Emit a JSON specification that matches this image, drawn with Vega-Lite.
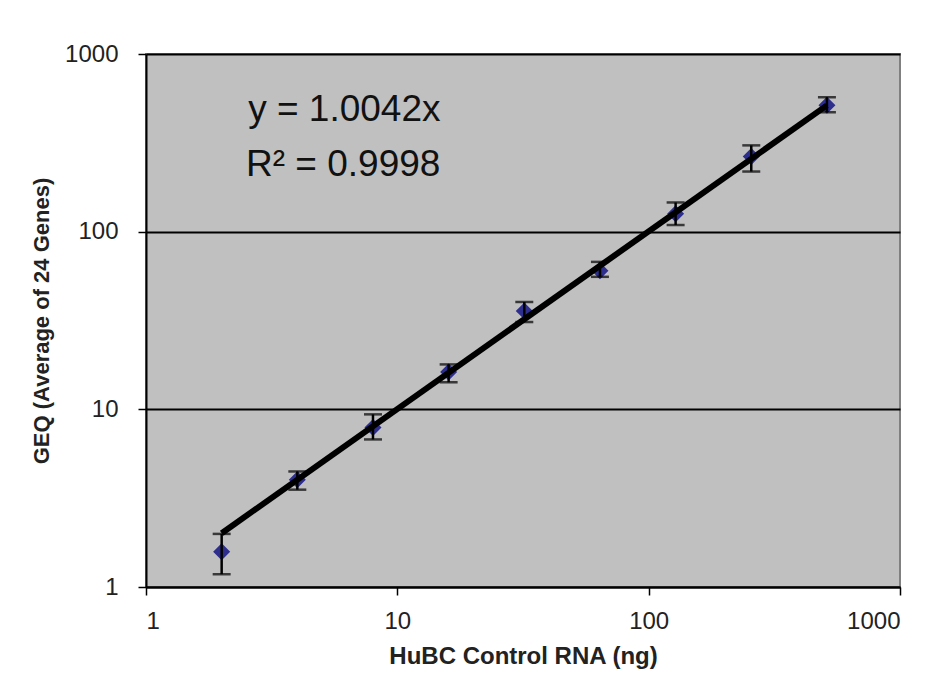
{
  "$schema": "https://vega.github.io/schema/vega-lite/v6.json",
  "autosize": {"type": "none"},
  "width": 754,
  "height": 533,
  "padding": {"left": 146, "top": 54, "right": 47, "bottom": 109},
  "background": "white",
  "config": {
    "font": "Liberation Sans",
    "view": {"fill": "#c0c0c0", "stroke": "#808080", "strokeWidth": 2},
    "axis": {
      "domainColor": "black", "domainWidth": 2,
      "tickColor": "black", "tickWidth": 1.5, "tickSize": 8,
      "labelFont": "Liberation Sans", "labelFontSize": 24, "labelColor": "#222",
      "titleFont": "Liberation Sans", "titleFontWeight": "bold", "titleColor": "#222"
    }
  },
  "datasets": {
    "points": [
      {"x": 2, "y": 1.58, "lo": 1.18, "hi": 1.99},
      {"x": 4, "y": 4.02, "lo": 3.53, "hi": 4.47},
      {"x": 8, "y": 7.9, "lo": 6.77, "hi": 9.37},
      {"x": 16, "y": 16.2, "lo": 14.2, "hi": 17.9},
      {"x": 32, "y": 35.8, "lo": 31, "hi": 40.2},
      {"x": 64, "y": 60.2, "lo": 55.7, "hi": 67.6},
      {"x": 128, "y": 126, "lo": 109, "hi": 146},
      {"x": 256, "y": 265, "lo": 218, "hi": 306},
      {"x": 512, "y": 515, "lo": 470, "hi": 571}
    ],
    "fit": [
      {"x": 2, "y": 2.008},
      {"x": 512, "y": 514.15}
    ],
    "notes": [
      {"x": 2.55, "y": 483, "label": "y = 1.0042x"},
      {"x": 2.5, "y": 237, "label": "R² = 0.9998"}
    ]
  },
  "layer": [
    {
      "data": {"name": "points"},
      "mark": {"type": "point", "shape": "diamond", "filled": true, "size": 290, "color": "#2e2e8f", "opacity": 1},
      "encoding": {
        "x": {
          "field": "x", "type": "quantitative",
          "scale": {"type": "log", "domain": [1, 1000], "nice": false},
          "axis": {"values": [1, 10, 100, 1000], "format": "d", "grid": false, "labelPadding": 14, "title": "HuBC Control RNA (ng)", "titleFontSize": 24, "titlePadding": 11}
        },
        "y": {
          "field": "y", "type": "quantitative",
          "scale": {"type": "log", "domain": [1, 1000], "nice": false},
          "axis": {"values": [1, 10, 100, 1000], "format": "d", "grid": true, "gridColor": "black", "gridWidth": 2, "gridOpacity": 1, "labelPadding": 20, "title": "GEQ (Average of 24 Genes)", "titleFontSize": 22, "titlePadding": 11}
        }
      }
    },
    {
      "data": {"name": "points"},
      "mark": {"type": "rule", "color": "black", "strokeWidth": 2.5},
      "encoding": {
        "x": {"field": "x", "type": "quantitative"},
        "y": {"field": "lo", "type": "quantitative"},
        "y2": {"field": "hi"}
      }
    },
    {
      "data": {"name": "points"},
      "mark": {"type": "tick", "orient": "horizontal", "color": "black", "size": 18, "thickness": 2.5},
      "encoding": {
        "x": {"field": "x", "type": "quantitative"},
        "y": {"field": "lo", "type": "quantitative"}
      }
    },
    {
      "data": {"name": "points"},
      "mark": {"type": "tick", "orient": "horizontal", "color": "black", "size": 18, "thickness": 2.5},
      "encoding": {
        "x": {"field": "x", "type": "quantitative"},
        "y": {"field": "hi", "type": "quantitative"}
      }
    },
    {
      "data": {"name": "fit"},
      "mark": {"type": "line", "color": "black", "strokeWidth": 6},
      "encoding": {
        "x": {"field": "x", "type": "quantitative"},
        "y": {"field": "y", "type": "quantitative"}
      }
    },
    {
      "data": {"name": "notes"},
      "mark": {"type": "text", "align": "left", "baseline": "middle", "fontSize": 37, "font": "Liberation Sans", "color": "#111"},
      "encoding": {
        "x": {"field": "x", "type": "quantitative"},
        "y": {"field": "y", "type": "quantitative"},
        "text": {"field": "label"}
      }
    }
  ]
}
